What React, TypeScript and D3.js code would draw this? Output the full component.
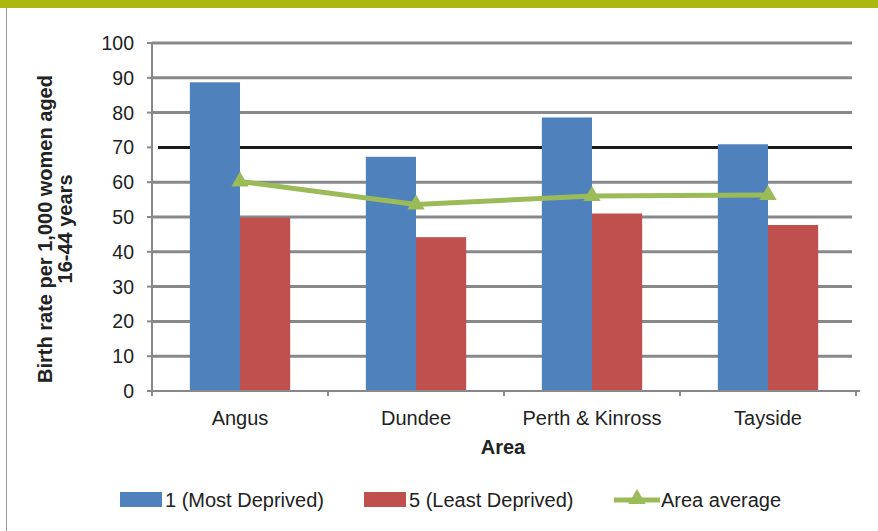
import React from 'react';
import * as d3 from 'd3';

const areas = ['Angus', 'Dundee', 'Perth & Kinross', 'Tayside'];
const seriesNames = ['1 (Most Deprived)', '5 (Least Deprived)'];
const mostDeprived = [88.7, 67.3, 78.6, 70.9];
const leastDeprived = [49.8, 44.2, 51.0, 47.7];
const areaAverage = [60.2, 53.6, 56.0, 56.3];
const yTicks = [0, 10, 20, 30, 40, 50, 60, 70, 80, 90, 100];

const W = 878;
const H = 531;
const colors = { blue: '#4f81bd', red: '#c0504d', green: '#9bbb59' };
const font = '"Liberation Sans", Arial, sans-serif';

const App = () => {
    const margin = { left: 152, right: 22, top: 43, bottom: 140 };
    const plotRight = W - margin.right;
    const plotBottom = H - margin.bottom;

    const x0 = d3.scaleBand<string>()
        .domain(areas)
        .range([margin.left, plotRight])
        .paddingInner(0.43)
        .paddingOuter(0.215);

    const x1 = d3.scaleBand<string>()
        .domain(seriesNames)
        .range([0, x0.bandwidth()]);

    const y = d3.scaleLinear().domain([0, 100]).range([plotBottom, margin.top]);

    const step = x0.step();
    const boundaries = d3.range(areas.length + 1).map(i => margin.left + i * step);
    const center = (a: string) => (x0(a) ?? 0) + x0.bandwidth() / 2;

    const line = d3.line<number>()
        .x((_, i) => center(areas[i]))
        .y(d => y(d));

    const tri = d3.symbol().type(d3.symbolTriangle).size(130)();

    const barSeries = [
        { name: seriesNames[0], values: mostDeprived, color: colors.blue },
        { name: seriesNames[1], values: leastDeprived, color: colors.red },
    ];

    return (
        <svg width={W} height={H} style={{ position: 'absolute', left: 0, top: 0, background: '#fff' }}>
            {/* header band */}
            <rect x={0} y={0} width={W} height={8} fill="#abb80e" />
            <line x1={6.5} x2={6.5} y1={8} y2={H} stroke="#9a9a9a" strokeWidth={1} />

            {/* grid lines */}
            {yTicks.filter(t => t > 0).map(t => (
                <line key={t} x1={t === 70 ? 158 : margin.left} x2={plotRight - 4} y1={y(t)} y2={y(t)}
                    stroke={t === 70 ? '#1a1a1a' : '#86888a'} strokeWidth={3} />
            ))}

            {/* y axis */}
            <line x1={margin.left} x2={margin.left} y1={margin.top} y2={plotBottom} stroke="#86888a" strokeWidth={2} />
            {yTicks.map(t => (
                <g key={t}>
                    <line x1={margin.left - 5} x2={margin.left} y1={y(t)} y2={y(t)} stroke="#86888a" strokeWidth={2} />
                    <text x={134} y={y(t)} dy="0.36em" textAnchor="end" fontFamily={font} fontSize={19.5} fill="#222">{t}</text>
                </g>
            ))}

            {/* bars */}
            {barSeries.map(s => (
                <g key={s.name}>
                    {areas.map((a, i) => (
                        <rect key={a}
                            x={(x0(a) ?? 0) + (x1(s.name) ?? 0)}
                            y={y(s.values[i])}
                            width={x1.bandwidth()}
                            height={plotBottom - y(s.values[i])}
                            fill={s.color} />
                    ))}
                </g>
            ))}

            {/* x axis */}
            <line x1={margin.left} x2={plotRight + 4} y1={plotBottom} y2={plotBottom} stroke="#86888a" strokeWidth={2} />
            {boundaries.map((b, i) => (
                <line key={i} x1={b} x2={b} y1={plotBottom} y2={plotBottom + 5} stroke="#86888a" strokeWidth={2} />
            ))}
            {areas.map(a => (
                <text key={a} x={center(a)} y={425} textAnchor="middle" fontFamily={font} fontSize={20} fill="#222">{a}</text>
            ))}
            <text x={(margin.left + plotRight) / 2 - 1} y={454} textAnchor="middle" fontFamily={font} fontSize={20} fontWeight="bold" fill="#222">Area</text>

            {/* area average line */}
            <path d={line(areaAverage) ?? ''} fill="none" stroke={colors.green} strokeWidth={5} />
            {areaAverage.map((v, i) => (
                <path key={i} d={tri ?? ''} transform={`translate(${center(areas[i])},${y(v)})`} fill={colors.green} />
            ))}

            {/* y title */}
            <g transform="translate(0,229) rotate(-90)" fontFamily={font} fontSize={20} fontWeight="bold" fill="#222" textAnchor="middle">
                <text x={0} y={52}>Birth rate per 1,000 women aged</text>
                <text x={0} y={72}>16-44 years</text>
            </g>

            {/* legend */}
            <g fontFamily={font} fontSize={20} fill="#222">
                <rect x={120} y={492} width={42} height={15} fill={colors.blue} />
                <text x={165} y={507}>{seriesNames[0]}</text>
                <rect x={364} y={492} width={42} height={15} fill={colors.red} />
                <text x={409} y={507}>{seriesNames[1]}</text>
                <line x1={614} x2={660} y1={500} y2={500} stroke={colors.green} strokeWidth={5} />
                <path d={tri ?? ''} transform="translate(637,499)" fill={colors.green} />
                <text x={661} y={507}>Area average</text>
            </g>
        </svg>
    );
};

export default App;
